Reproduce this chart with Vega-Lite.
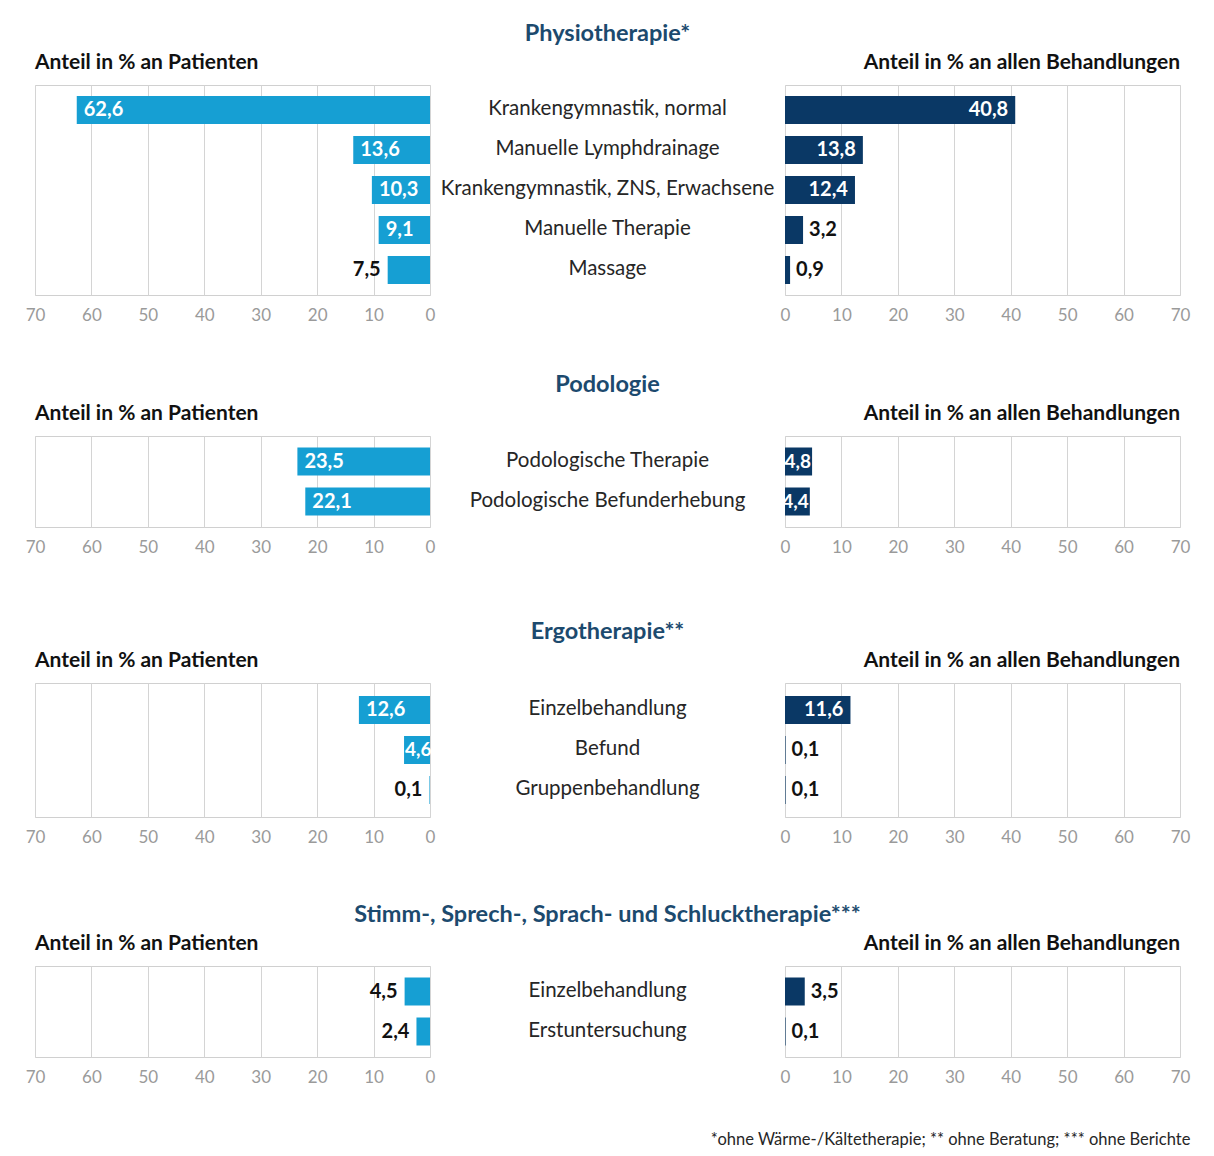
{
  "$schema": "https://vega.github.io/schema/vega-lite/v6.json",
  "padding": {"left": 24, "top": 21, "right": 5, "bottom": 5},
  "background": "white",
  "datasets": {
    "rows": [
      {"sec": "physio", "cat": "Krankengymnastik, normal", "ord": 1, "pat": 62.6, "beh": 40.8},
      {"sec": "physio", "cat": "Manuelle Lymphdrainage", "ord": 2, "pat": 13.6, "beh": 13.8},
      {"sec": "physio", "cat": "Krankengymnastik, ZNS, Erwachsene", "ord": 3, "pat": 10.3, "beh": 12.4},
      {"sec": "physio", "cat": "Manuelle Therapie", "ord": 4, "pat": 9.1, "beh": 3.2},
      {"sec": "physio", "cat": "Massage", "ord": 5, "pat": 7.5, "beh": 0.9},
      {"sec": "podo", "cat": "Podologische Therapie", "ord": 1, "pat": 23.5, "beh": 4.8},
      {"sec": "podo", "cat": "Podologische Befunderhebung", "ord": 2, "pat": 22.1, "beh": 4.4},
      {"sec": "ergo", "cat": "Einzelbehandlung", "ord": 1, "pat": 12.6, "beh": 11.6},
      {"sec": "ergo", "cat": "Befund", "ord": 2, "pat": 4.6, "beh": 0.1},
      {"sec": "ergo", "cat": "Gruppenbehandlung", "ord": 3, "pat": 0.1, "beh": 0.1},
      {"sec": "stimm", "cat": "Einzelbehandlung", "ord": 1, "pat": 4.5, "beh": 3.5},
      {"sec": "stimm", "cat": "Erstuntersuchung", "ord": 2, "pat": 2.4, "beh": 0.1}
    ]
  },
  "title": {
    "text": "*ohne Wärme-/Kältetherapie; ** ohne Beratung; *** ohne Berichte",
    "orient": "bottom", "anchor": "end", "fontSize": 16.5, "fontWeight": "normal", "color": "#262626", "offset": 46
  },
  "vconcat": [
    {
      "hconcat": [
        {
          "width": 395, "height": 210,
          "view": {"stroke": "#d0d0d0"},
          "title": {"text": "Anteil in % an Patienten", "anchor": "start", "frame": "group"},
          "data": {"name": "rows"},
          "transform": [{"filter": "datum.sec == 'physio'"}],
          "encoding": {"y": {"field": "cat", "type": "nominal", "sort": {"field": "ord", "op": "min"}, "axis": null, "scale": {"type": "band", "paddingInner": 0.3, "paddingOuter": 0.275}}},
          "layer": [
            {"mark": {"type": "bar", "color": "#169fd3"}, "encoding": {"x": {"field": "pat", "type": "quantitative", "scale": {"domain": [0, 70], "reverse": true}, "axis": {"values": [0, 10, 20, 30, 40, 50, 60, 70], "title": null}}}},
            {"transform": [{"filter": "datum.pat > 8"}], "mark": {"type": "text", "align": "left", "dx": 7, "color": "white", "fontWeight": "bold", "fontSize": 20}, "encoding": {"x": {"field": "pat", "type": "quantitative"}, "text": {"field": "pat", "format": ".1f"}}},
            {"transform": [{"filter": "datum.pat <= 8"}], "mark": {"type": "text", "align": "right", "dx": -7, "color": "#111111", "fontWeight": "bold", "fontSize": 20}, "encoding": {"x": {"field": "pat", "type": "quantitative"}, "text": {"field": "pat", "format": ".1f"}}}
          ]
        },
        {
          "width": 355, "height": 210,
          "view": {"stroke": null},
          "title": {"text": "Physiotherapie*", "anchor": "middle", "offset": 40, "color": "#1c4a6e", "fontSize": 23.5},
          "data": {"name": "rows"},
          "transform": [{"filter": "datum.sec == 'physio'"}],
          "mark": {"type": "text", "fontSize": 20.5, "color": "#262626", "dy": -1},
          "encoding": {
            "y": {"field": "cat", "type": "nominal", "sort": {"field": "ord", "op": "min"}, "axis": null, "scale": {"type": "band", "paddingInner": 0.3, "paddingOuter": 0.275}},
            "text": {"field": "cat"}
          }
        },
        {
          "width": 395, "height": 210,
          "view": {"stroke": "#d0d0d0"},
          "title": {"text": "Anteil in % an allen Behandlungen", "anchor": "end", "frame": "group"},
          "data": {"name": "rows"},
          "transform": [{"filter": "datum.sec == 'physio'"}],
          "encoding": {"y": {"field": "cat", "type": "nominal", "sort": {"field": "ord", "op": "min"}, "axis": null, "scale": {"type": "band", "paddingInner": 0.3, "paddingOuter": 0.275}}},
          "layer": [
            {"mark": {"type": "bar", "color": "#0a3865"}, "encoding": {"x": {"field": "beh", "type": "quantitative", "scale": {"domain": [0, 70]}, "axis": {"values": [0, 10, 20, 30, 40, 50, 60, 70], "title": null}}}},
            {"transform": [{"filter": "datum.beh >= 10"}], "mark": {"type": "text", "align": "right", "dx": -7, "color": "white", "fontWeight": "bold", "fontSize": 20}, "encoding": {"x": {"field": "beh", "type": "quantitative"}, "text": {"field": "beh", "format": ".1f"}}},
            {"transform": [{"filter": "datum.beh <= 4"}], "mark": {"type": "text", "align": "left", "dx": 6, "color": "#111111", "fontWeight": "bold", "fontSize": 20}, "encoding": {"x": {"field": "beh", "type": "quantitative"}, "text": {"field": "beh", "format": ".1f"}}}
          ]
        }
      ],
      "spacing": 0, "bounds": "flush"
    },
    {
      "hconcat": [
        {
          "width": 395, "height": 91,
          "view": {"stroke": "#d0d0d0"},
          "title": {"text": "Anteil in % an Patienten", "anchor": "start", "frame": "group"},
          "data": {"name": "rows"},
          "transform": [{"filter": "datum.sec == 'podo'"}],
          "encoding": {"y": {"field": "cat", "type": "nominal", "sort": {"field": "ord", "op": "min"}, "axis": null, "scale": {"type": "band", "paddingInner": 0.3, "paddingOuter": 0.2875}}},
          "layer": [
            {"mark": {"type": "bar", "color": "#169fd3"}, "encoding": {"x": {"field": "pat", "type": "quantitative", "scale": {"domain": [0, 70], "reverse": true}, "axis": {"values": [0, 10, 20, 30, 40, 50, 60, 70], "title": " ", "titleFontSize": 2, "titlePadding": 13}}}},
            {"transform": [{"filter": "datum.pat > 8"}], "mark": {"type": "text", "align": "left", "dx": 7, "color": "white", "fontWeight": "bold", "fontSize": 20}, "encoding": {"x": {"field": "pat", "type": "quantitative"}, "text": {"field": "pat", "format": ".1f"}}}
          ]
        },
        {
          "width": 355, "height": 91,
          "view": {"stroke": null},
          "title": {"text": "Podologie", "anchor": "middle", "offset": 40, "color": "#1c4a6e", "fontSize": 23.5},
          "data": {"name": "rows"},
          "transform": [{"filter": "datum.sec == 'podo'"}],
          "mark": {"type": "text", "fontSize": 20.5, "color": "#262626", "dy": -1},
          "encoding": {
            "y": {"field": "cat", "type": "nominal", "sort": {"field": "ord", "op": "min"}, "axis": null, "scale": {"type": "band", "paddingInner": 0.3, "paddingOuter": 0.2875}},
            "text": {"field": "cat"}
          }
        },
        {
          "width": 395, "height": 91,
          "view": {"stroke": "#d0d0d0"},
          "title": {"text": "Anteil in % an allen Behandlungen", "anchor": "end", "frame": "group"},
          "data": {"name": "rows"},
          "transform": [{"filter": "datum.sec == 'podo'"}],
          "encoding": {"y": {"field": "cat", "type": "nominal", "sort": {"field": "ord", "op": "min"}, "axis": null, "scale": {"type": "band", "paddingInner": 0.3, "paddingOuter": 0.2875}}},
          "layer": [
            {"mark": {"type": "bar", "color": "#0a3865"}, "encoding": {"x": {"field": "beh", "type": "quantitative", "scale": {"domain": [0, 70]}, "axis": {"values": [0, 10, 20, 30, 40, 50, 60, 70], "title": null}}}},
            {"transform": [{"filter": "datum.beh > 4 && datum.beh < 10"}], "mark": {"type": "text", "align": "right", "dx": -1, "color": "white", "fontWeight": "bold", "fontSize": 19}, "encoding": {"x": {"field": "beh", "type": "quantitative"}, "text": {"field": "beh", "format": ".1f"}}}
          ]
        }
      ],
      "spacing": 0, "bounds": "flush"
    },
    {
      "hconcat": [
        {
          "width": 395, "height": 134,
          "view": {"stroke": "#d0d0d0"},
          "title": {"text": "Anteil in % an Patienten", "anchor": "start", "frame": "group"},
          "data": {"name": "rows"},
          "transform": [{"filter": "datum.sec == 'ergo'"}],
          "encoding": {"y": {"field": "cat", "type": "nominal", "sort": {"field": "ord", "op": "min"}, "axis": null, "scale": {"type": "band", "paddingInner": 0.3, "paddingOuter": 0.325}}},
          "layer": [
            {"mark": {"type": "bar", "color": "#169fd3"}, "encoding": {"x": {"field": "pat", "type": "quantitative", "scale": {"domain": [0, 70], "reverse": true}, "axis": {"values": [0, 10, 20, 30, 40, 50, 60, 70], "title": " ", "titleFontSize": 2, "titlePadding": 6}}}},
            {"transform": [{"filter": "datum.pat > 8"}], "mark": {"type": "text", "align": "left", "dx": 7, "color": "white", "fontWeight": "bold", "fontSize": 20}, "encoding": {"x": {"field": "pat", "type": "quantitative"}, "text": {"field": "pat", "format": ".1f"}}},
            {"transform": [{"filter": "datum.pat > 4.55 && datum.pat <= 8"}], "mark": {"type": "text", "align": "left", "dx": 1, "color": "white", "fontWeight": "bold", "fontSize": 19}, "encoding": {"x": {"field": "pat", "type": "quantitative"}, "text": {"field": "pat", "format": ".1f"}}},
            {"transform": [{"filter": "datum.pat <= 4.55"}], "mark": {"type": "text", "align": "right", "dx": -7, "color": "#111111", "fontWeight": "bold", "fontSize": 20}, "encoding": {"x": {"field": "pat", "type": "quantitative"}, "text": {"field": "pat", "format": ".1f"}}}
          ]
        },
        {
          "width": 355, "height": 134,
          "view": {"stroke": null},
          "title": {"text": "Ergotherapie**", "anchor": "middle", "offset": 40, "color": "#1c4a6e", "fontSize": 23.5},
          "data": {"name": "rows"},
          "transform": [{"filter": "datum.sec == 'ergo'"}],
          "mark": {"type": "text", "fontSize": 20.5, "color": "#262626", "dy": -1},
          "encoding": {
            "y": {"field": "cat", "type": "nominal", "sort": {"field": "ord", "op": "min"}, "axis": null, "scale": {"type": "band", "paddingInner": 0.3, "paddingOuter": 0.325}},
            "text": {"field": "cat"}
          }
        },
        {
          "width": 395, "height": 134,
          "view": {"stroke": "#d0d0d0"},
          "title": {"text": "Anteil in % an allen Behandlungen", "anchor": "end", "frame": "group"},
          "data": {"name": "rows"},
          "transform": [{"filter": "datum.sec == 'ergo'"}],
          "encoding": {"y": {"field": "cat", "type": "nominal", "sort": {"field": "ord", "op": "min"}, "axis": null, "scale": {"type": "band", "paddingInner": 0.3, "paddingOuter": 0.325}}},
          "layer": [
            {"mark": {"type": "bar", "color": "#0a3865"}, "encoding": {"x": {"field": "beh", "type": "quantitative", "scale": {"domain": [0, 70]}, "axis": {"values": [0, 10, 20, 30, 40, 50, 60, 70], "title": null}}}},
            {"transform": [{"filter": "datum.beh >= 10"}], "mark": {"type": "text", "align": "right", "dx": -7, "color": "white", "fontWeight": "bold", "fontSize": 20}, "encoding": {"x": {"field": "beh", "type": "quantitative"}, "text": {"field": "beh", "format": ".1f"}}},
            {"transform": [{"filter": "datum.beh <= 4"}], "mark": {"type": "text", "align": "left", "dx": 6, "color": "#111111", "fontWeight": "bold", "fontSize": 20}, "encoding": {"x": {"field": "beh", "type": "quantitative"}, "text": {"field": "beh", "format": ".1f"}}}
          ]
        }
      ],
      "spacing": 0, "bounds": "flush"
    },
    {
      "hconcat": [
        {
          "width": 395, "height": 91,
          "view": {"stroke": "#d0d0d0"},
          "title": {"text": "Anteil in % an Patienten", "anchor": "start", "frame": "group"},
          "data": {"name": "rows"},
          "transform": [{"filter": "datum.sec == 'stimm'"}],
          "encoding": {"y": {"field": "cat", "type": "nominal", "sort": {"field": "ord", "op": "min"}, "axis": null, "scale": {"type": "band", "paddingInner": 0.3, "paddingOuter": 0.2875}}},
          "layer": [
            {"mark": {"type": "bar", "color": "#169fd3"}, "encoding": {"x": {"field": "pat", "type": "quantitative", "scale": {"domain": [0, 70], "reverse": true}, "axis": {"values": [0, 10, 20, 30, 40, 50, 60, 70], "title": null}}}},
            {"mark": {"type": "text", "align": "right", "dx": -7, "color": "#111111", "fontWeight": "bold", "fontSize": 20}, "encoding": {"x": {"field": "pat", "type": "quantitative"}, "text": {"field": "pat", "format": ".1f"}}}
          ]
        },
        {
          "width": 355, "height": 91,
          "view": {"stroke": null},
          "title": {"text": "Stimm-, Sprech-, Sprach- und Schlucktherapie***", "anchor": "middle", "offset": 40, "color": "#1c4a6e", "fontSize": 23.5},
          "data": {"name": "rows"},
          "transform": [{"filter": "datum.sec == 'stimm'"}],
          "mark": {"type": "text", "fontSize": 20.5, "color": "#262626", "dy": -1},
          "encoding": {
            "y": {"field": "cat", "type": "nominal", "sort": {"field": "ord", "op": "min"}, "axis": null, "scale": {"type": "band", "paddingInner": 0.3, "paddingOuter": 0.2875}},
            "text": {"field": "cat"}
          }
        },
        {
          "width": 395, "height": 91,
          "view": {"stroke": "#d0d0d0"},
          "title": {"text": "Anteil in % an allen Behandlungen", "anchor": "end", "frame": "group"},
          "data": {"name": "rows"},
          "transform": [{"filter": "datum.sec == 'stimm'"}],
          "encoding": {"y": {"field": "cat", "type": "nominal", "sort": {"field": "ord", "op": "min"}, "axis": null, "scale": {"type": "band", "paddingInner": 0.3, "paddingOuter": 0.2875}}},
          "layer": [
            {"mark": {"type": "bar", "color": "#0a3865"}, "encoding": {"x": {"field": "beh", "type": "quantitative", "scale": {"domain": [0, 70]}, "axis": {"values": [0, 10, 20, 30, 40, 50, 60, 70], "title": null}}}},
            {"mark": {"type": "text", "align": "left", "dx": 6, "color": "#111111", "fontWeight": "bold", "fontSize": 20}, "encoding": {"x": {"field": "beh", "type": "quantitative"}, "text": {"field": "beh", "format": ".1f"}}}
          ]
        }
      ],
      "spacing": 0, "bounds": "flush"
    }
  ],
  "spacing": 48,
  "config": {
    "font": "Lato",
    "locale": {"number": {"decimal": ",", "thousands": ".", "grouping": [3], "currency": ["", " €"]}},
    "axis": {"domain": false, "ticks": false, "grid": true, "gridColor": "#d4d4d4", "gridWidth": 1, "labelColor": "#9a9a9a", "labelFontSize": 17, "labelPadding": 12, "labelFlush": false, "labelFont": "Lato"},
    "title": {"font": "Lato", "fontSize": 21, "fontWeight": "bold", "color": "#111111", "offset": 12},
    "text": {"font": "Lato"}
  }
}
